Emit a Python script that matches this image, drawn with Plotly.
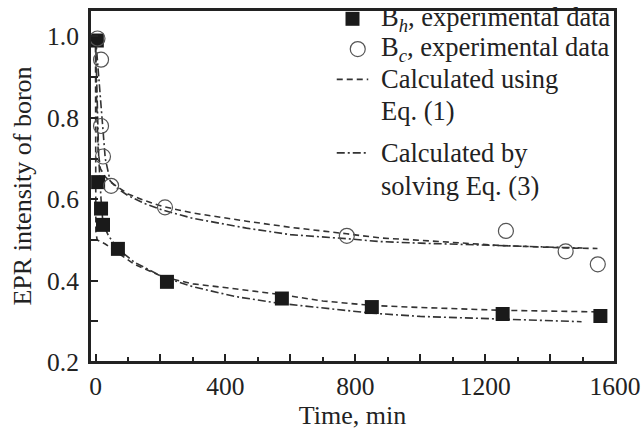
import plotly.graph_objects as go

# ---- data ----
t_h = [4, 8, 17, 23, 69, 220, 574, 851, 1254, 1555]
y_h = [0.99, 0.642, 0.577, 0.537, 0.478, 0.397, 0.356, 0.335, 0.318, 0.313]

t_c = [6, 17, 17, 23, 48, 214, 774, 1264, 1448, 1547]
y_c = [0.995, 0.943, 0.78, 0.705, 0.633, 0.58, 0.51, 0.522, 0.472, 0.44]

# Eq. (1) curves (dashed)
t_eq1_c = [0, 3, 8, 15, 30, 50, 100, 150, 208, 300, 465, 600, 774, 875, 1000, 1254, 1460, 1546]
y_eq1_c = [1.0, 0.85, 0.72, 0.675, 0.655, 0.64, 0.613, 0.597, 0.582, 0.566, 0.546, 0.531, 0.515, 0.505, 0.499, 0.486, 0.48, 0.479]
t_eq1_h = [0, 1, 5, 30, 69, 120, 208, 300, 429, 568, 700, 851, 1000, 1254, 1555]
y_eq1_h = [1.0, 0.52, 0.5, 0.49, 0.468, 0.44, 0.409, 0.392, 0.38, 0.366, 0.35, 0.339, 0.334, 0.327, 0.323]

# Eq. (3) curves (dash-dot)
t_eq3_c = [0, 10, 20, 30, 45, 70, 100, 150, 208, 300, 465, 600, 774, 875, 1000, 1254, 1500]
y_eq3_c = [1.0, 0.9, 0.78, 0.70, 0.645, 0.625, 0.609, 0.59, 0.573, 0.553, 0.529, 0.513, 0.503, 0.496, 0.492, 0.486, 0.48]
t_eq3_h = [0, 5, 10, 17, 23, 40, 69, 120, 208, 300, 429, 568, 700, 851, 1000, 1254, 1497]
y_eq3_h = [1.0, 0.85, 0.70, 0.60, 0.54, 0.51, 0.478, 0.445, 0.409, 0.385, 0.361, 0.344, 0.332, 0.32, 0.312, 0.305, 0.299]

x_tickvals = [0, 200, 400, 600, 800, 1000, 1200, 1400, 1600]
x_ticktext = ["0", "", "400", "", "800", "", "1200", "", "1600"]
y_tickvals = [0.2, 0.3, 0.4, 0.5, 0.6, 0.7, 0.8, 0.9, 1.0]
y_ticktext = ["0.2", "", "0.4", "", "0.6", "", "0.8", "", "1.0"]

legend_lines = ["B<sub><i>h</i></sub>, experimental data",
                "B<sub><i>c</i></sub>, experimental data",
                "Calculated using", "Eq. (1)",
                "Calculated by", "solving Eq. (3)"]

FONT = "Liberation Serif, Times New Roman, serif"
LINE_C = "#333333"
DASH = "6px,4px"
DASHDOT = "8px,3px,2px,3px"

fig = go.Figure()

for tx, ty, d in [(t_eq1_c, y_eq1_c, DASH), (t_eq1_h, y_eq1_h, DASH),
                  (t_eq3_c, y_eq3_c, DASHDOT), (t_eq3_h, y_eq3_h, DASHDOT)]:
    fig.add_trace(go.Scatter(x=tx, y=ty, mode="lines", showlegend=False,
                             line=dict(color=LINE_C, width=1.6, dash=d)))

fig.add_trace(go.Scatter(
    x=t_h, y=y_h, mode="markers", showlegend=False,
    marker=dict(symbol="square", size=14, color="#1a1a1a", line=dict(width=0))))
fig.add_trace(go.Scatter(
    x=t_c, y=y_c, mode="markers", showlegend=False,
    marker=dict(symbol="circle-open", size=15, color="#555555", line=dict(width=1.2))))

# ---- hand-built legend (paper coordinates) ----
leg_y = [0.975, 0.889, 0.803, 0.714, 0.594, 0.499]
text_x = 0.551
sym_x = 0.50
for txt, yy in zip(legend_lines, leg_y):
    fig.add_annotation(x=text_x, y=yy, xref="paper", yref="paper", text=txt,
                       showarrow=False, xanchor="left", yanchor="middle",
                       font=dict(family=FONT, size=26.5, color="#222222"))

fig.add_shape(type="rect", xref="paper", yref="paper", xsizemode="pixel", ysizemode="pixel",
              xanchor=sym_x, yanchor=leg_y[0], x0=-7, x1=7, y0=-7, y1=7,
              fillcolor="#1a1a1a", line=dict(width=0))
fig.add_shape(type="circle", xref="paper", yref="paper", xsizemode="pixel", ysizemode="pixel",
              xanchor=sym_x + 0.01, yanchor=leg_y[1], x0=-7.5, x1=7.5, y0=-7.5, y1=7.5,
              line=dict(color="#555555", width=1.2))
fig.add_shape(type="line", xref="paper", yref="paper", x0=sym_x - 0.03, x1=sym_x + 0.03,
              y0=leg_y[2], y1=leg_y[2], line=dict(color=LINE_C, width=1.6, dash=DASH))
fig.add_shape(type="line", xref="paper", yref="paper", x0=sym_x - 0.03, x1=sym_x + 0.03,
              y0=leg_y[4], y1=leg_y[4], line=dict(color=LINE_C, width=1.6, dash=DASHDOT))

# plot frame
fig.add_shape(type="rect", xref="paper", yref="paper", x0=0, x1=1, y0=0, y1=1,
              line=dict(color="#222222", width=2), fillcolor="rgba(0,0,0,0)", layer="above")

fig.update_layout(
    width=644, height=432,
    margin=dict(l=90, r=29, t=10, b=70),
    paper_bgcolor="white", plot_bgcolor="white",
    font=dict(family=FONT, size=25, color="#222222"),
    showlegend=False,
    xaxis=dict(range=[-17, 1600], showline=True, linecolor="#222222", linewidth=2,
               mirror=True, ticks="inside", ticklen=8, tickwidth=1.5, tickcolor="#222222",
               tickmode="array", tickvals=x_tickvals, ticktext=x_ticktext,
               minor=dict(ticks="inside", ticklen=5, dtick=100, tickcolor="#222222", tickwidth=1.5),
               showgrid=False, zeroline=False, automargin=False,
               title=dict(text="Time, min", standoff=2, font=dict(size=26)),
               tickfont=dict(size=25.5)),
    yaxis=dict(range=[0.2, 1.065], showline=True, linecolor="#222222", linewidth=2,
               mirror=True, ticks="inside", ticklen=8, tickwidth=1.5, tickcolor="#222222",
               tickmode="array", tickvals=y_tickvals, ticktext=y_ticktext,
               showgrid=False, zeroline=False, automargin=False,
               ticklabelstandoff=4,
               title=dict(text="EPR intensity of boron", standoff=8, font=dict(size=26)),
               tickfont=dict(size=25.5)),
)

fig.write_html("out.html", config={"displayModeBar": False},
               post_script="document.body.style.margin='0';document.body.style.overflow='hidden';")
